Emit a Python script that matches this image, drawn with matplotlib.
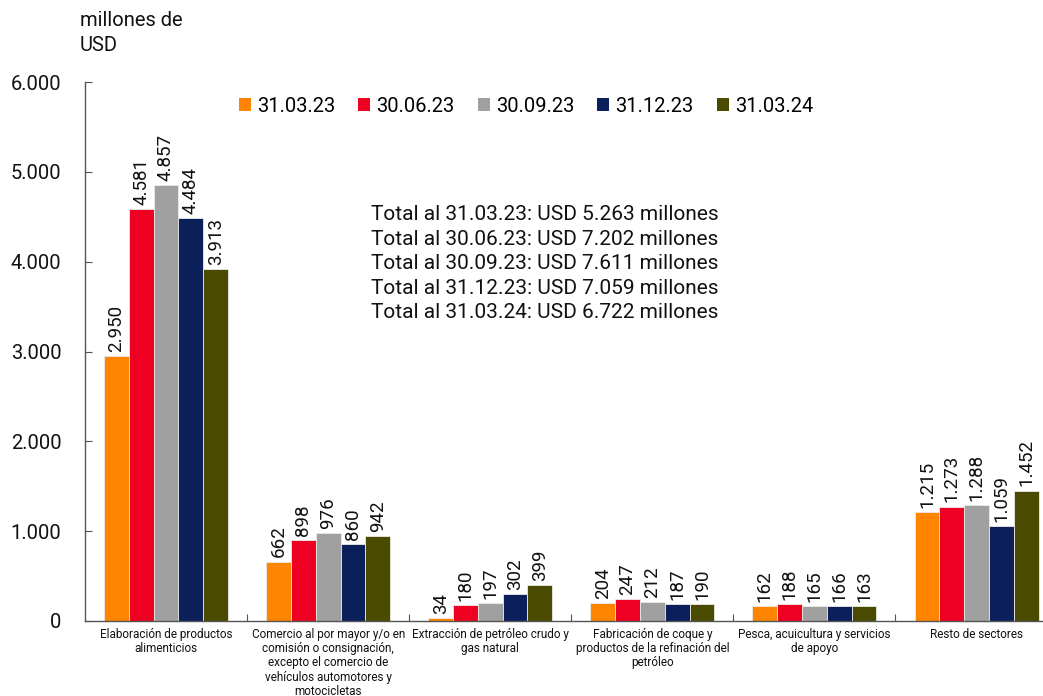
import matplotlib
matplotlib.use("Agg")
import matplotlib.pyplot as plt
from matplotlib.patches import Patch
from matplotlib.ticker import FuncFormatter
import numpy as np

plt.rcParams['font.family'] = ['Roboto', 'DejaVu Sans']

categories = [
    "Elaboración de productos\nalimenticios",
    "Comercio al por mayor y/o en\ncomisión o consignación,\nexcepto el comercio de\nvehículos automotores y\nmotocicletas",
    "Extracción de petróleo crudo y\ngas natural",
    "Fabricación de coque y\nproductos de la refinación del\npetróleo",
    "Pesca, acuicultura y servicios\nde apoyo",
    "Resto de sectores",
]
series_names = ["31.03.23", "30.06.23", "30.09.23", "31.12.23", "31.03.24"]
v_310323 = [2950, 662, 34, 204, 162, 1215]
v_300623 = [4581, 898, 180, 247, 188, 1273]
v_300923 = [4857, 976, 197, 212, 165, 1288]
v_311223 = [4484, 860, 302, 187, 166, 1059]
v_310324 = [3913, 942, 399, 190, 163, 1452]
series_values = [v_310323, v_300623, v_300923, v_311223, v_310324]
colors = ["#FF8400", "#EE0022", "#A0A0A0", "#0B1F5A", "#4A4A00"]
totals = ["5.263", "7.202", "7.611", "7.059", "6.722"]

def fmt(v):
    return f"{v:,.0f}".replace(",", ".")

fig = plt.figure(figsize=(10.43, 6.96), dpi=100)
ax = fig.add_axes([85/1043, 75/696, (1043-85)/1043, (621-82)/696])

x = np.arange(len(categories))
n = len(series_names)
bw = 0.153
for i, (name, vals, c) in enumerate(zip(series_names, series_values, colors)):
    pos = x + (i - (n - 1) / 2) * bw
    bars = ax.bar(pos, vals, width=bw, color=c, edgecolor="#ecebe4", linewidth=0.6, label=name)
    for b, v in zip(bars, vals):
        ax.annotate(fmt(v), (b.get_x() + b.get_width() / 2, v), xytext=(0, 3),
                    textcoords="offset points", rotation=90, ha="center", va="bottom",
                    fontsize=13.5, color="#111111")

ax.set_ylim(0, 6000)
ax.set_xlim(-0.5, 5.41)
ax.set_yticks(np.arange(0, 6001, 1000))
ax.yaxis.set_major_formatter(FuncFormatter(lambda v, p: fmt(v)))
ax.tick_params(axis="y", direction="in", length=5, labelsize=14.5, pad=17, color="#555555", labelcolor="#111111")

ax.set_xticks(np.arange(0.5, 5.0, 1.0))
ax.set_xticklabels([])
ax.tick_params(axis="x", which="major", direction="in", length=5, color="#555555")
ax.set_xticks(x, minor=True)
ax.set_xticklabels(categories, minor=True, fontsize=8.5, linespacing=1.12, color="#111111")
ax.tick_params(axis="x", which="minor", length=0, pad=5)

for s in ["top", "right"]:
    ax.spines[s].set_visible(False)
for s in ["left", "bottom"]:
    ax.spines[s].set_color("#555555")
    ax.spines[s].set_linewidth(1.0)

handles = [Patch(facecolor=c, edgecolor="none") for c in colors]
leg = ax.legend(handles, series_names, loc="center", bbox_to_anchor=((526 - 85) / 958, (696 - 106 - 75) / (621 - 82)),
                ncol=5, frameon=False, fontsize=14.5, handlelength=0.6, handleheight=0.6,
                handletextpad=0.3, columnspacing=1.15)

total_text = "\n".join(f"Total al {d}: USD {t} millones" for d, t in zip(series_names, totals))
fig.text(371/1043, 1 - 205/696, total_text, ha="left", va="top", fontsize=15, linespacing=1.37, color="#111111")

fig.text(80/1043, 1 - 11/696, "millones de\nUSD", ha="left", va="top", fontsize=14.5, linespacing=1.42, color="#111111")

fig.savefig("out.png", dpi=100)
